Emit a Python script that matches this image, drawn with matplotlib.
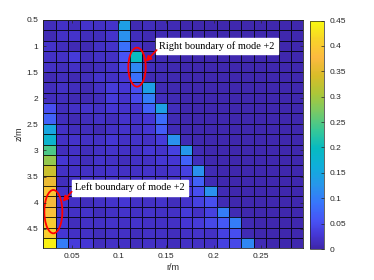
import numpy as np
import matplotlib
matplotlib.use("Agg")
import matplotlib.pyplot as plt
from matplotlib.colors import LinearSegmentedColormap
from matplotlib.patches import Ellipse
from matplotlib.ticker import FormatStrFormatter

# grid (cell edges) of r and z
r_edges = np.linspace(0.02, 0.2947, 22)
z_edges = np.linspace(0.5, 4.874, 23)

# field values, one row per z cell (top to bottom), one column per r cell
bg = 0.005
rows = [
    [0.013, 0.018, 0.013, 0.022, 0.018, 0.022, 0.14, 0.008, 0.013, 0.008, 0.008],
    [0.008, 0.018, 0.022, 0.013, 0.013, 0.022, 0.12, 0.013, 0.008, 0.008, 0.008],
    [0.022, 0.013, 0.008, 0.008, 0.018, 0.022, 0.085, 0.018, 0.008, 0.008, 0.006],
    [0.018, 0.018, 0.033, 0.013, 0.018, 0.018, 0.055, 0.2, 0.008, 0.008, 0.006],
    [0.018, 0.013, 0.018, 0.008, 0.013, 0.018, 0.045, 0.11, 0.013, 0.008, 0.006],
    [0.008, 0.013, 0.008, 0.013, 0.022, 0.018, 0.028, 0.085, 0.008, 0.008, 0.006],
    [0.013, 0.018, 0.013, 0.008, 0.018, 0.033, 0.028, 0.05, 0.14, 0.008, 0.006],
    [0.013, 0.013, 0.008, 0.008, 0.013, 0.033, 0.022, 0.045, 0.1, 0.013, 0.008],
    [0.05, 0.013, 0.018, 0.022, 0.018, 0.028, 0.022, 0.022, 0.07, 0.14, 0.013],
    [0.07, 0.013, 0.008, 0.013, 0.018, 0.013, 0.022, 0.018, 0.028, 0.08, 0.008],
    [0.15, 0.018, 0.013, 0.013, 0.008, 0.018, 0.022, 0.018, 0.028, 0.065, 0.008],
    [0.18, 0.018, 0.022, 0.018, 0.018, 0.028, 0.018, 0.022, 0.018, 0.033, 0.12, 0.008],
    [0.245, 0.013, 0.018, 0.013, 0.018, 0.022, 0.018, 0.018, 0.028, 0.022, 0.038, 0.13, 0.008],
    [0.29, 0.028, 0.018, 0.013, 0.022, 0.018, 0.013, 0.018, 0.018, 0.028, 0.028, 0.07, 0.013],
    [0.33, 0.018, 0.018, 0.018, 0.018, 0.022, 0.018, 0.018, 0.022, 0.018, 0.022, 0.038, 0.12, 0.008],
    [0.36, 0.013, 0.018, 0.018, 0.018, 0.018, 0.018, 0.018, 0.018, 0.018, 0.018, 0.028, 0.07, 0.008],
    [0.395, 0.018, 0.018, 0.018, 0.013, 0.018, 0.018, 0.022, 0.018, 0.018, 0.018, 0.028, 0.05, 0.12, 0.008],
    [0.37, 0.022, 0.018, 0.013, 0.018, 0.022, 0.028, 0.018, 0.018, 0.022, 0.013, 0.022, 0.038, 0.05, 0.008],
    [0.385, 0.022, 0.018, 0.022, 0.013, 0.018, 0.022, 0.018, 0.022, 0.018, 0.018, 0.033, 0.018, 0.038, 0.1, 0.008],
    [0.4, 0.028, 0.013, 0.018, 0.018, 0.022, 0.018, 0.022, 0.018, 0.018, 0.018, 0.028, 0.033, 0.045, 0.06, 0.1, 0.008],
    [0.405, 0.028, 0.018, 0.018, 0.013, 0.018, 0.018, 0.013, 0.018, 0.018, 0.013, 0.018, 0.022, 0.018, 0.038, 0.05, 0.008],
    [0.44, 0.1, 0.033, 0.028, 0.013, 0.018, 0.018, 0.013, 0.018, 0.018, 0.013, 0.018, 0.018, 0.018, 0.038, 0.045, 0.11, 0.008],
]
ncol = len(r_edges) - 1
C = np.array([row + [bg] * (ncol - len(row)) for row in rows])

cbar_ticks = [0, 0.05, 0.1, 0.15, 0.2, 0.25, 0.3, 0.35, 0.4, 0.45]

# parula-like colormap
parula = LinearSegmentedColormap.from_list("parula", [
    (0.00, (0.2422, 0.1504, 0.6603)),
    (0.06, (0.2710, 0.2140, 0.8300)),
    (0.12, (0.2810, 0.3228, 0.9579)),
    (0.20, (0.2200, 0.4600, 0.9900)),
    (0.28, (0.1540, 0.5902, 0.9218)),
    (0.36, (0.0590, 0.6838, 0.8583)),
    (0.44, (0.0267, 0.7302, 0.7565)),
    (0.52, (0.2161, 0.7843, 0.5923)),
    (0.60, (0.4700, 0.7900, 0.4000)),
    (0.68, (0.6720, 0.7793, 0.2227)),
    (0.76, (0.8500, 0.7400, 0.1600)),
    (0.84, (0.9900, 0.7300, 0.2500)),
    (0.92, (0.9700, 0.8300, 0.1600)),
    (1.00, (0.9763, 0.9831, 0.0538)),
])

plt.rcParams['font.family'] = ['Liberation Sans', 'DejaVu Sans']
fig = plt.figure(figsize=(3.74, 2.8), dpi=100)
ax = fig.add_axes([0.1158, 0.1132, 0.6952, 0.8154])
cax = fig.add_axes([0.8302, 0.1107, 0.0369, 0.816])

pc = ax.pcolormesh(r_edges, z_edges, C, cmap=parula, vmin=0, vmax=0.45,
                   edgecolors=(0, 0, 0, 0.8), linewidth=0.6)
ax.set_xlim(r_edges[0], r_edges[-1])
ax.set_ylim(z_edges[-1], z_edges[0])
ax.set_xticks([0.05, 0.1, 0.15, 0.2, 0.25])
ax.set_yticks([0.5, 1, 1.5, 2, 2.5, 3, 3.5, 4, 4.5])
ax.xaxis.set_major_formatter(FormatStrFormatter('%g'))
ax.yaxis.set_major_formatter(FormatStrFormatter('%g'))
ax.tick_params(labelsize=6, length=2, width=0.5, direction='in',
               colors='#262626', top=True, right=True)
for s in ax.spines.values():
    s.set_color('#262626')
    s.set_linewidth(0.6)
ax.set_xlabel('r/m', fontsize=6.5, color='#262626', labelpad=2)
ax.set_ylabel('z/m', fontsize=6.5, color='#262626', labelpad=2)

cb = fig.colorbar(pc, cax=cax, ticks=cbar_ticks)
cb.ax.yaxis.set_major_formatter(FormatStrFormatter('%g'))
cb.ax.tick_params(labelsize=6, length=2, width=0.5, direction='in', colors='#262626')
cb.outline.set_edgecolor('#262626')
cb.outline.set_linewidth(0.5)

# red ellipses, arrows and labels
ax.add_patch(Ellipse((0.119, 1.404), 0.0184, 0.747, fill=False, ec='red', lw=1.3))
ax.add_patch(Ellipse((0.0306, 4.172), 0.019, 0.83, fill=False, ec='red', lw=1.3))

box = dict(boxstyle='square,pad=0.3', fc='white', ec='white')
ax.text(0.1427, 1.0, 'Right boundary of mode +2', fontsize=7.5, family='Liberation Serif',
        va='center', ha='left', bbox=box)
ax.text(0.054, 3.71, 'Left boundary of mode +2', fontsize=7.5, family='Liberation Serif',
        va='center', ha='left', bbox=box)

arrow = dict(arrowstyle='-|>', color='red', lw=1.2, mutation_scale=8, shrinkA=0, shrinkB=0)
ax.annotate('', xy=(0.1282, 1.299), xytext=(0.1398, 1.075), arrowprops=arrow)
ax.annotate('', xy=(0.0405, 3.981), xytext=(0.05, 3.789), arrowprops=arrow)

fig.savefig('out.png', dpi=100)
